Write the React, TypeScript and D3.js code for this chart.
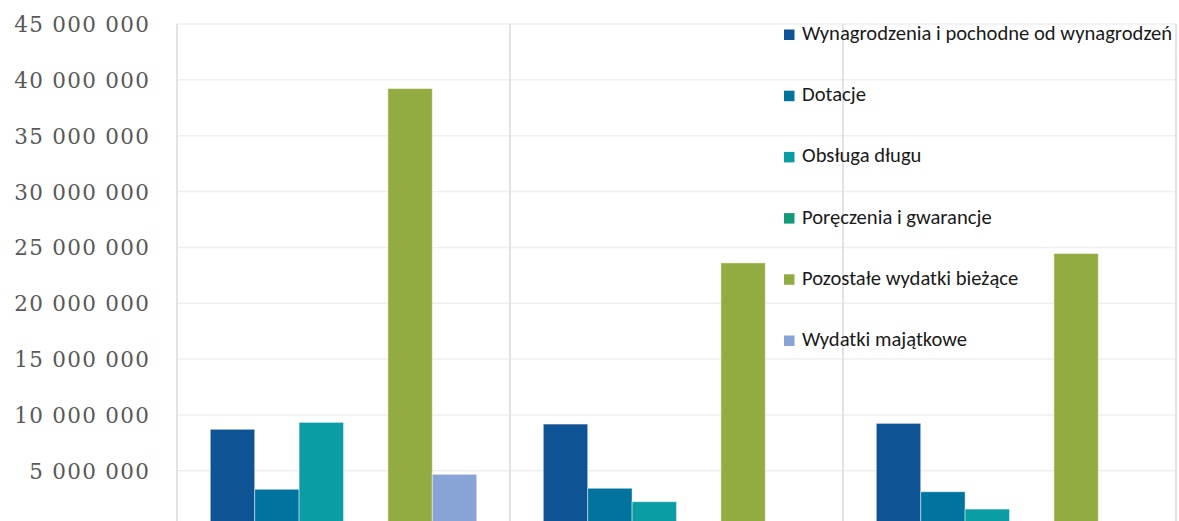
import React from "react";
import * as d3 from "d3";

const categories = ["Rok 1", "Rok 2", "Rok 3"];
const seriesNames = [
  "Wynagrodzenia i pochodne od wynagrodzeń",
  "Dotacje",
  "Obsługa długu",
  "Poręczenia i gwarancje",
  "Pozostałe wydatki bieżące",
  "Wydatki majątkowe",
];
const seriesColors = ["#0e5394", "#00749f", "#0a9ea4", "#129a7a", "#93ac42", "#88a3d6"];
const wynagrodzenia = [8710000, 9180000, 9240000];
const dotacje = [3340000, 3430000, 3120000];
const obslugaDlugu = [9330000, 2230000, 1570000];
const poreczenia = [0, 0, 0];
const pozostale = [39220000, 23610000, 24450000];
const majatkowe = [4680000, 0, 0];
const seriesValues = [wynagrodzenia, dotacje, obslugaDlugu, poreczenia, pozostale, majatkowe];
const yTicks = [5000000, 10000000, 15000000, 20000000, 25000000, 30000000, 35000000, 40000000, 45000000];

const W = 1179;
const H = 521;
const left = 177;
const right = 1176;
const top = 24;
const bottom = 526.6;

export default function App() {
  const y = d3.scaleLinear().domain([0, 45000000]).range([bottom, top]);
  const x0 = d3.scaleBand<string>().domain(categories).range([left, right]).paddingInner(0).paddingOuter(0);
  const gw = x0.bandwidth();
  const x1 = d3
    .scaleBand<number>()
    .domain(seriesNames.map((_, i) => i))
    .range([gw * 0.1, gw * 0.9])
    .padding(0);
  const fmt = (v: number) => d3.format(",")(v).replace(/,/g, " ");
  const legendY = (i: number) => 34.5 + i * 61.2;
  const ls = 1.3;

  return (
    <svg
      width={W}
      height={H}
      style={{ position: "absolute", left: 0, top: 0, display: "block", background: "#fff" }}
    >
      {yTicks.map((t) => (
        <line key={"g" + t} x1={left} x2={right} y1={y(t)} y2={y(t)} stroke="#efefef" strokeWidth={1.5} />
      ))}
      {[left, ...categories.slice(1).map((c) => x0(c) as number), right].map((xx, i) => (
        <line key={"v" + i} x1={xx} x2={xx} y1={top} y2={H} stroke="#dcdcdc" strokeWidth={1.6} />
      ))}
      {yTicks.map((t) => (
        <text
          key={"t" + t}
          x={149 + ls}
          y={y(t) + 2}
          textAnchor="end"
          dominantBaseline="middle"
          fontFamily="'DejaVu Serif', serif"
          fontSize={21.5}
          letterSpacing={ls}
          fill="#595959"
        >
          {fmt(t)}
        </text>
      ))}
      {categories.map((c, ci) => (
        <g key={c} transform={`translate(${x0(c)},0)`}>
          {seriesValues.map((vals, si) =>
            vals[ci] > 0 ? (
              <rect
                key={si}
                x={x1(si)}
                y={y(vals[ci])}
                width={x1.bandwidth()}
                height={y(0) - y(vals[ci])}
                fill={seriesColors[si]}
                stroke="rgba(255,255,255,0.45)"
                strokeWidth={1}
              />
            ) : null
          )}
        </g>
      ))}
      {seriesNames.map((n, i) => (
        <g key={n}>
          <rect x={784} y={legendY(i) - 5} width={10.5} height={10.5} fill={seriesColors[i]} />
          <text
            x={802}
            y={legendY(i) + 0.5}
            dominantBaseline="middle"
            fontFamily="Carlito, Lato, 'Noto Sans', sans-serif"
            fontSize={20.6}
            fill="#1a1a1a"
          >
            {n}
          </text>
        </g>
      ))}
    </svg>
  );
}
